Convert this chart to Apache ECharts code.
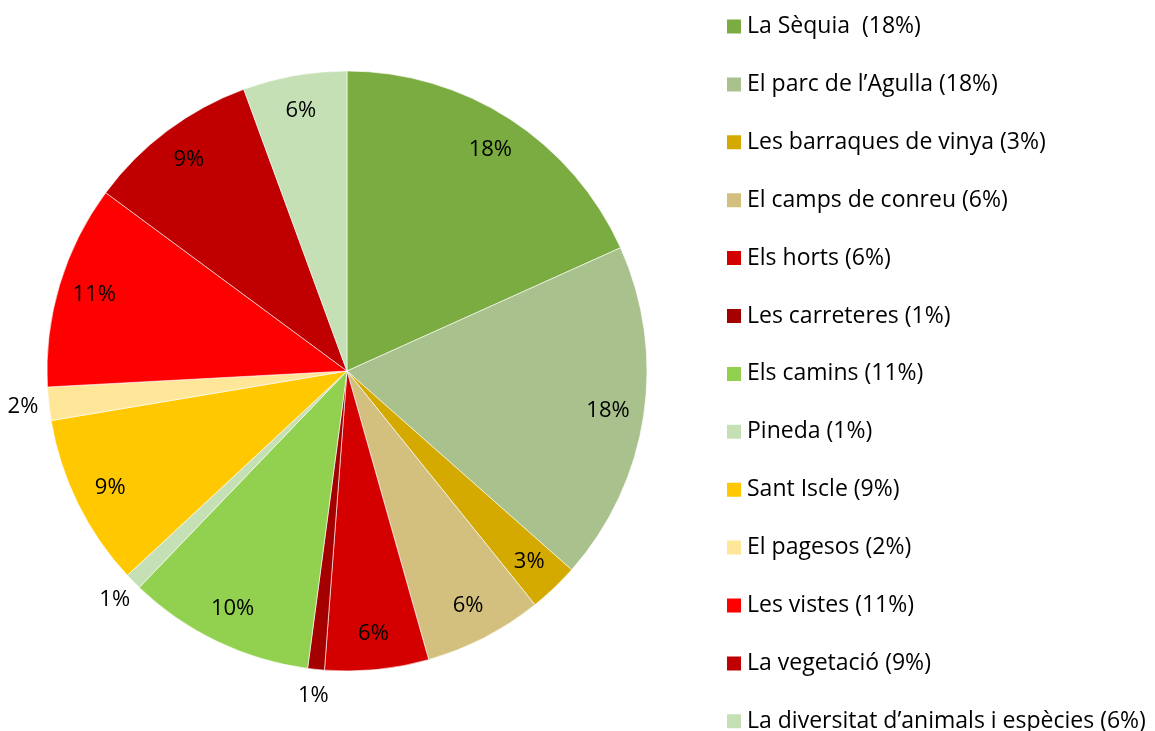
<!DOCTYPE html>
<html>
<head>
<meta charset="utf-8">
<script src="https://cdn.jsdelivr.net/npm/echarts@6/dist/echarts.min.js"></script>
<style>
  html, body { margin: 0; padding: 0; background: #fff; }
  #main { width: 1155px; height: 731px; }
</style>
</head>
<body>
<div id="main"></div>
<script>
// categories as written in the legend
var categories = [
  'La Sèquia  (18%)',
  'El parc de l\u2019Agulla (18%)',
  'Les barraques de vinya (3%)',
  'El camps de conreu (6%)',
  'Els horts (6%)',
  'Les carreteres (1%)',
  'Els camins (11%)',
  'Pineda (1%)',
  'Sant Iscle (9%)',
  'El pagesos (2%)',
  'Les vistes (11%)',
  'La vegetació (9%)',
  'La diversitat d\u2019animals i espècies (6%)'
]
// share of each slice
var values = [18.3, 18.3, 2.7, 6.4, 5.6, 0.9, 10.1, 0.9, 9.3, 1.8, 11.0, 9.3, 5.6]
var colors = ['#7aac41', '#a9c18c', '#d4a900', '#d4c07e', '#d40000', '#a50000',
  '#92d050', '#c5e0b4', '#ffc800', '#ffe699', '#ff0000', '#c00000', '#c5e0b4']

var FONT = '"Open Sans", sans-serif'
var center = [347, 371]

var pieData = categories.map(function(name, i) {
  return { name: name, value: values[i], itemStyle: { color: colors[i] } }
})
function pct(p) { return Math.round(p.percent) + '%' }
// label rings: big slices inside, small ones just outside the pie
function labelRing(bigOnes) {
  return categories.map(function(name, i) {
    var big = values[i] >= 2.5
    return { name: name, value: values[i], label: { show: big === bigOnes } }
  })
}

var chart = echarts.init(document.getElementById('main'))
chart.setOption({
  animation: false,
  legend: {
    orient: 'vertical',
    left: 725,
    top: 15,
    height: 760,
    padding: 0,
    icon: 'rect',
    itemWidth: 16,
    itemHeight: 16,
    itemGap: 34.9,
    data: categories,
    selectedMode: false,
    textStyle: { fontFamily: FONT, fontSize: 23, color: '#000', lineHeight: 22 }
  },
  series: [{
    type: 'pie',
    center: center,
    radius: [0, 300],
    startAngle: 90,
    silent: true,
    data: pieData,
    itemStyle: { borderColor: '#fff', borderWidth: 0.6 },
    label: { show: false },
    labelLine: { show: false }
  }, {
    type: 'pie',
    center: center,
    radius: [222, 300],
    startAngle: 90,
    silent: true,
    data: labelRing(true),
    itemStyle: { color: 'rgba(0,0,0,0)' },
    label: { position: 'inside', formatter: pct, fontFamily: FONT, fontSize: 22, color: '#000' },
    labelLine: { show: false }
  }, {
    type: 'pie',
    center: center,
    radius: [298, 348],
    startAngle: 90,
    silent: true,
    data: labelRing(false),
    itemStyle: { color: 'rgba(0,0,0,0)' },
    label: { position: 'inside', formatter: pct, fontFamily: FONT, fontSize: 22, color: '#000' },
    labelLine: { show: false }
  }]
})
</script>
</body>
</html>
